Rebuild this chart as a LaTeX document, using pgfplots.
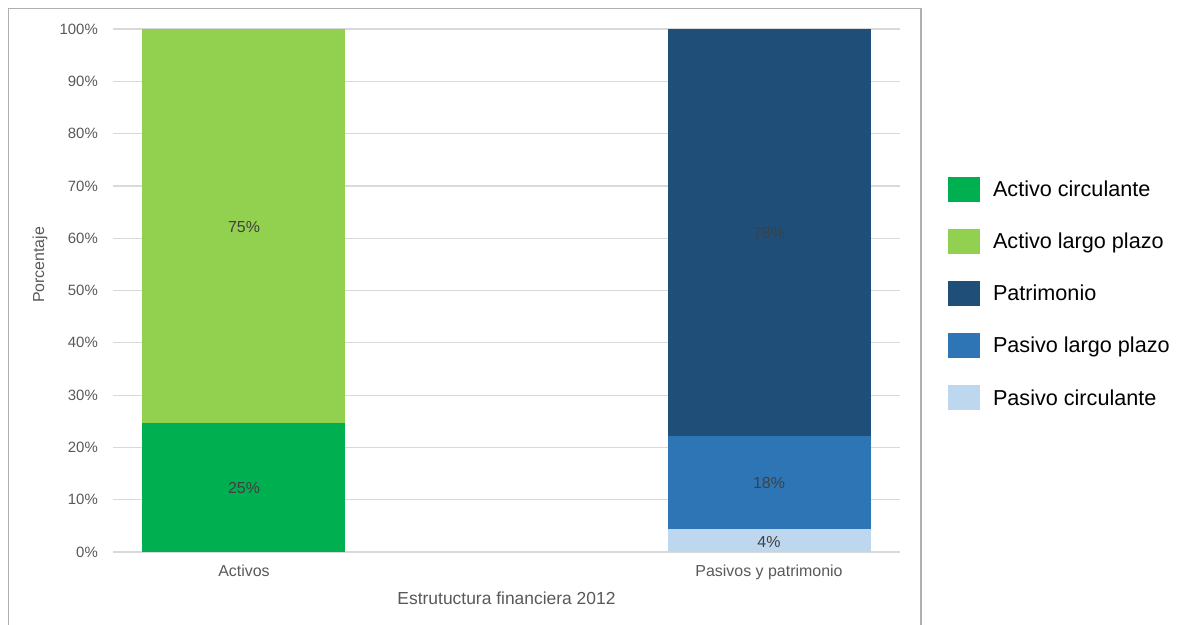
\documentclass[border=0pt]{standalone}
\usepackage{fontspec}
\setmainfont{Liberation Sans}
\usepackage{pgfplots}
\pgfplotsset{compat=1.18}
\definecolor{acirc}{HTML}{00AF50}
\definecolor{alarg}{HTML}{92D050}
\definecolor{patri}{HTML}{1F4E79}
\definecolor{plarg}{HTML}{2E75B6}
\definecolor{pcirc}{HTML}{BDD7EE}
\definecolor{gridc}{HTML}{D9D9D9}
\definecolor{txt}{HTML}{595959}
\definecolor{lbl}{HTML}{404040}
\definecolor{framec}{HTML}{B0B0B0}
\begin{document}
\begin{tikzpicture}
\draw[framec, line width=1.5bp] (8.5bp,-700bp) -- (8.5bp,-8.5bp) -- (921bp,-8.5bp) -- (921bp,-700bp);
\begin{axis}[
  at={(113bp,-552bp)}, anchor=south west,
  scale only axis, width=787bp, height=523bp,
  xmin=-0.2495, xmax=1.2495, ymin=0, ymax=100,
  xtick={0,1}, xticklabels={Activos, Pasivos y patrimonio},
  ytick={0,10,...,100},
  yticklabels={0\%,10\%,20\%,30\%,40\%,50\%,60\%,70\%,80\%,90\%,100\%},
  ymajorgrids, grid style={gridc, line width=1.2bp},
  axis line style={draw=none}, tick style={draw=none},
  yticklabel style={anchor=east, inner sep=0pt, xshift=-15bp, font=\fontsize{15}{18}\selectfont, text=txt},
  xticklabel style={anchor=north, inner sep=0pt, yshift=-13bp, font=\fontsize{16}{19}\selectfont, text=txt},
  xlabel={Estrutuctura financiera 2012}, ylabel={Porcentaje},
  xlabel style={at={(axis description cs:0.5,-0.088)}, anchor=center, inner sep=0pt, font=\fontsize{17.5}{21}\selectfont, text=txt},
  ylabel style={at={(axis description cs:-0.0928,0.549)}, anchor=center, inner sep=0pt, font=\fontsize{16}{19}\selectfont, text=txt},
  legend style={at={(axis description cs:1.061,0.7176)}, anchor=north west, draw=none, fill=none, inner sep=0pt, outer sep=0pt, row sep=27.2bp, column sep=13bp, font=\fontsize{21.7}{26}\selectfont, nodes={inner sep=0pt}, cells={anchor=west}},
  legend image code/.code={\fill[#1] (0bp,-12.5bp) rectangle (32bp,12.5bp);},
]
\addplot[ybar, bar width=203bp, bar shift=0pt, fill=alarg, draw=none, forget plot] coordinates {(0,100)};
\addplot[ybar, bar width=203bp, bar shift=0pt, fill=acirc, draw=none, forget plot] coordinates {(0,24.7)};
\addplot[ybar, bar width=203bp, bar shift=0pt, fill=patri, draw=none, forget plot] coordinates {(1,100)};
\addplot[ybar, bar width=203bp, bar shift=0pt, fill=plarg, draw=none, forget plot] coordinates {(1,22.2)};
\addplot[ybar, bar width=203bp, bar shift=0pt, fill=pcirc, draw=none, forget plot] coordinates {(1,4.4)};
\addplot[only marks, mark=*, mark size=0pt, mark options={draw=none, fill=none}, forget plot,
  nodes near coords, point meta=explicit symbolic,
  nodes near coords style={anchor=center, inner sep=0pt, font=\fontsize{16}{19}\selectfont, text=lbl}]
  coordinates {(0,12.2)[25\%] (0,62.2)[75\%] (1,1.9)[4\%] (1,13.2)[18\%] (1,61.0)[78\%]};
\addlegendimage{fill=acirc, draw=none}
\addlegendentry{Activo circulante}
\addlegendimage{fill=alarg, draw=none}
\addlegendentry{Activo largo plazo}
\addlegendimage{fill=patri, draw=none}
\addlegendentry{Patrimonio}
\addlegendimage{fill=plarg, draw=none}
\addlegendentry{Pasivo largo plazo}
\addlegendimage{fill=pcirc, draw=none}
\addlegendentry{Pasivo circulante}
\end{axis}
\pgfresetboundingbox
\useasboundingbox (0,0) rectangle (1181bp,-625bp);
\end{tikzpicture}
\end{document}
